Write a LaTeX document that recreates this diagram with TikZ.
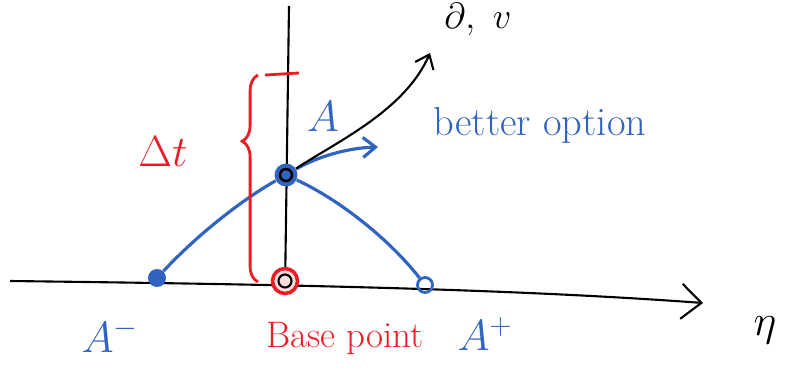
\documentclass[tikz,border=0pt]{standalone}
\usepackage{amsmath, amssymb}
\usepackage{tikz}
\usetikzlibrary{arrows.meta, positioning, decorations.pathreplacing}

\definecolor{penblue}{RGB}{48,100,192}
\definecolor{penred}{RGB}{236,28,36}

\begin{document}
\begin{tikzpicture}[
  x=0.02cm, y=-0.02cm,
  axis/.style={-{Straight Barb[length=4mm, width=7mm]}, line width=1.2pt},
  curve/.style={penblue, line width=1.8pt},
  move/.style={-{Straight Barb[length=2.5mm, width=4mm]}, line width=1.2pt},
  dot/.style={circle, inner sep=0pt, minimum size=3.2mm},
  lbl/.style={inner sep=0pt, font=\fontsize{26}{30}\selectfont}
]
\useasboundingbox (0,0) rectangle (792,379);

% axes
\coordinate (hstart) at (10,281);
\coordinate (hend) at (703,303);
\coordinate (vtop) at (289,6);
\coordinate (vbot) at (285,292);
\draw[axis] (hstart) .. controls (250,284) and (500,288) .. (hend);
\draw[line width=1.2pt] (vtop) -- (vbot);

% points
\node[dot, fill=penblue, minimum size=3.6mm] (Am) at (157,278) {};
\node[dot, draw=penblue, line width=1.6pt, minimum size=3mm] (Ap) at (425,285) {};
\node[dot, fill=penblue, minimum size=4.6mm] (A) at (286,175) {};
\node[dot, draw=black, line width=1.4pt, minimum size=2.4mm] at (A) {};
\node[dot, draw=penred, fill=penred!15, line width=2pt, minimum size=5mm] (base) at (285,281) {};
\node[dot, draw=black, line width=1.2pt, minimum size=2.6mm] at (base) {};

% paths through A
\draw[curve] (Am) .. controls (200,232) and (245,198) .. (A);
\draw[curve] (A) .. controls (340,200) and (390,240) .. (Ap);
\coordinate (better) at (378,147);
\coordinate (other) at (430,53);
\draw[move, penblue, line width=1.8pt] (A) .. controls (315,158) and (345,148) .. (better);
\draw[move] (A) .. controls (340,140) and (405,110) .. (other);

% step size
\coordinate (bracebot) at (258,282);
\coordinate (bracetop) at (258,75);
\draw[penred, line width=1.6pt, decorate,
  decoration={brace, amplitude=9pt, aspect=0.68}] (bracebot) -- (bracetop);
\coordinate (tickl) at (265,75);
\coordinate (tickr) at (299,73);
\draw[penred, line width=1.6pt] (tickl) -- (tickr);

% labels
\node[lbl, penred] (dt) at (163,152) {$\Delta t$};
\node[lbl, penblue] (Alabel) at (323,117) {$A$};
\node[lbl, penblue, font=\fontsize{23}{26}\selectfont] (opt) at (540,125) {better option};
\node[lbl, penblue] (Amlabel) at (110,336) {$A^{-}$};
\node[lbl, penred, font=\fontsize{21}{24}\selectfont] (baselabel) at (345,338) {Base point};
\node[lbl, penblue] (Aplabel) at (485,334) {$A^{+}$};
\node[lbl, font=\fontsize{32}{36}\selectfont] (eta) at (765,330) {$\eta$};
\node[lbl, font=\fontsize{22}{26}\selectfont] (dv) at (478,19) {$\partial,\ v$};
\end{tikzpicture}
\end{document}
